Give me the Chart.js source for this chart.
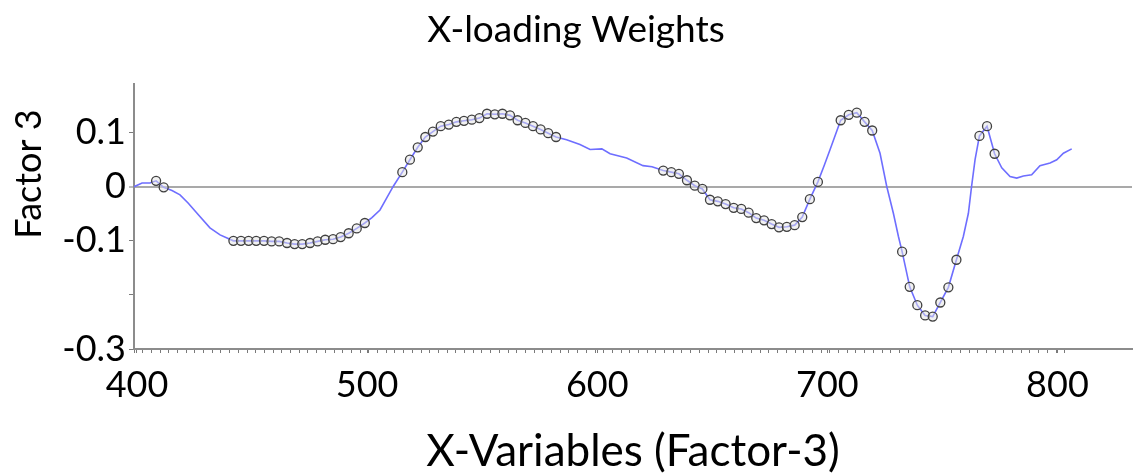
<!DOCTYPE html>
<html>
<head>
<meta charset="utf-8">
<title>X-loading Weights</title>
<script src="https://cdn.jsdelivr.net/npm/chart.js@4"></script>
<style>
    html, body { margin: 0; padding: 0; background: #ffffff; }
    #loadingChart { display: block; }
</style>
</head>
<body>
<canvas id="loadingChart" width="1134" height="475"></canvas>
<script>
// Wavelengths of the plotted variables
const wavelengths = [
    398.7, 402.2, 405.6, 408.3, 411.6, 415.2, 418.7, 422.2, 425.9, 431.7, 436.1,
    441.9, 445.2, 448.5, 451.8, 455.2, 458.5, 461.8, 465.2, 468.5, 471.8, 475.2, 478.5, 481.8, 485.2, 488.5, 492.0, 495.5, 499.0,
    502.1, 505.6, 508.6, 511.4,
    515.3, 518.6, 522.0, 525.3, 528.6, 532.0, 535.5, 538.8, 542.1, 545.5, 548.8, 552.1, 555.5, 558.8, 562.1, 565.4, 568.8, 572.1, 575.4, 578.7, 582.1,
    586.7, 592.5, 596.9, 602.0, 605.6, 612.8, 619.9, 623.8,
    628.7, 632.2, 635.5, 639.0, 642.4, 645.7, 649.0, 652.4, 655.8, 659.3, 662.6, 665.8, 669.1, 672.5, 675.8, 679.0, 682.4, 685.8, 689.1, 692.4, 695.9,
    698.6, 701.2,
    705.8, 709.3, 712.8, 716.2, 719.5,
    722.9, 725.8, 728.7, 730.9,
    732.5, 735.8, 739.1, 742.5, 745.8, 749.1, 752.6, 756.1,
    759.1, 761.3, 762.7, 764.2,
    766.1, 769.4, 772.7,
    775.8, 779.4, 782.3, 785.2, 788.8, 792.4, 796.8, 799.7, 802.6, 806.2
];

// Factor 3 loading weights
const loadings = [
    0, 0.007, 0.007, 0.011, -0.001, -0.007, -0.015, -0.030, -0.048, -0.076, -0.089,
    -0.100, -0.100, -0.100, -0.100, -0.100, -0.101, -0.101, -0.104, -0.106, -0.106, -0.104, -0.101, -0.098, -0.097, -0.093, -0.086, -0.077, -0.067,
    -0.057, -0.043, -0.020, 0.001,
    0.027, 0.050, 0.073, 0.092, 0.102, 0.112, 0.115, 0.120, 0.122, 0.124, 0.127, 0.135, 0.134, 0.135, 0.132, 0.123, 0.118, 0.112, 0.106, 0.099, 0.092,
    0.087, 0.078, 0.069, 0.070, 0.061, 0.053, 0.039, 0.037,
    0.030, 0.027, 0.024, 0.012, 0.002, -0.004, -0.024, -0.027, -0.032, -0.039, -0.041, -0.048, -0.058, -0.062, -0.069, -0.075, -0.074, -0.071, -0.056, -0.023, 0.009,
    0.039, 0.069,
    0.123, 0.133, 0.137, 0.120, 0.104,
    0.062, 0.001, -0.049, -0.092,
    -0.120, -0.185, -0.219, -0.238, -0.240, -0.214, -0.186, -0.135,
    -0.092, -0.049, 0.001, 0.050,
    0.094, 0.112, 0.061,
    0.035, 0.019, 0.016, 0.020, 0.022, 0.039, 0.044, 0.050, 0.062, 0.070
];

// 1 = variable marked with a circle (significant)
const marked = [
    0, 0, 0, 1, 1, 0, 0, 0, 0, 0, 0,
    1, 1, 1, 1, 1, 1, 1, 1, 1, 1, 1, 1, 1, 1, 1, 1, 1, 1,
    0, 0, 0, 0,
    1, 1, 1, 1, 1, 1, 1, 1, 1, 1, 1, 1, 1, 1, 1, 1, 1, 1, 1, 1, 1,
    0, 0, 0, 0, 0, 0, 0, 0,
    1, 1, 1, 1, 1, 1, 1, 1, 1, 1, 1, 1, 1, 1, 1, 1, 1, 1, 1, 1, 1,
    0, 0,
    1, 1, 1, 1, 1,
    0, 0, 0, 0,
    1, 1, 1, 1, 1, 1, 1, 1,
    0, 0, 0, 0,
    1, 1, 1,
    0, 0, 0, 0, 0, 0, 0, 0, 0, 0
];

// Axis ticks
const xTickLabels = [400, 500, 600, 700, 800];
const yTickValues = [-0.3, -0.25, -0.2, -0.15, -0.1, -0.05, 0, 0.05, 0.1, 0.15];
const yTickLabels = [0.1, 0, -0.1, -0.3];

const X_MIN = 398.7;
const X_MAX = 832.4;

document.addEventListener('DOMContentLoaded', function() {
    const ctx = document.getElementById('loadingChart').getContext('2d');

    // Small tick marks along the x axis, one per variable step
    const xMinorTicks = [];
    for (let v = X_MIN; v <= 806.5; v += 3.78) {
        xMinorTicks.push(v);
    }
    const xTicks = xMinorTicks.concat(xTickLabels).sort((a, b) => a - b);

    // Y axis title drawn by hand (it sits above the middle of the axis)
    const yTitlePlugin = {
        id: 'yTitle',
        afterDraw(chart) {
            const c = chart.ctx;
            c.save();
            c.translate(29, 174);
            c.rotate(-Math.PI / 2);
            c.font = '36px Lato';
            c.fillStyle = '#000000';
            c.textAlign = 'center';
            c.textBaseline = 'middle';
            c.fillText('Factor 3', 0, 0);
            c.restore();
        }
    };

    const loadingChart = new Chart(ctx, {
        type: 'line',
        data: {
            datasets: [{
                label: 'Factor 3',
                data: wavelengths.map((x, i) => ({ x: x, y: loadings[i] })),
                borderColor: '#6e6eff',
                borderWidth: 1.6,
                tension: 0,
                pointRadius: marked.map(m => m ? 4.5 : 0),
                pointHoverRadius: marked.map(m => m ? 4.5 : 0),
                pointBackgroundColor: 'rgba(228, 228, 228, 0.5)',
                pointBorderColor: '#404040',
                pointBorderWidth: 1.3
            }]
        },
        options: {
            responsive: false,
            animation: false,
            layout: {
                padding: { left: 20, right: 2, top: 0, bottom: 0 }
            },
            plugins: {
                legend: { display: false },
                tooltip: { enabled: false },
                title: {
                    display: true,
                    text: 'X-loading Weights',
                    color: '#000000',
                    font: { family: 'Lato', size: 37, weight: 'normal', lineHeight: 1.2 },
                    padding: { top: 8, bottom: 31.6 }
                }
            },
            scales: {
                x: {
                    type: 'linear',
                    min: X_MIN,
                    max: X_MAX,
                    afterBuildTicks: function(scale) {
                        scale.ticks = xTicks.map(v => ({ value: v }));
                    },
                    afterFit: function(scale) {
                        scale.height = 126;
                    },
                    ticks: {
                        autoSkip: false,
                        maxRotation: 0,
                        minRotation: 0,
                        padding: 11,
                        color: '#000000',
                        font: { family: 'Lato', size: 36 },
                        callback: function(value) {
                            return xTickLabels.includes(value) ? String(value) : '';
                        }
                    },
                    grid: {
                        drawOnChartArea: false,
                        tickLength: 4,
                        tickColor: '#7a7a7a',
                        tickWidth: 1
                    },
                    border: { display: true, color: '#8c8c8c', width: 2 },
                    title: {
                        display: true,
                        text: 'X-Variables (Factor-3)',
                        color: '#000000',
                        font: { family: 'Lato', size: 44, lineHeight: 1.0 },
                        padding: { top: 0, bottom: 1 }
                    }
                },
                y: {
                    min: -0.3,
                    max: 0.19,
                    afterBuildTicks: function(scale) {
                        scale.ticks = yTickValues.map(v => ({ value: v }));
                    },
                    afterFit: function(scale) {
                        scale.width = 114;
                    },
                    ticks: {
                        padding: 3,
                        color: '#000000',
                        font: { family: 'Lato', size: 36 },
                        callback: function(value) {
                            return yTickLabels.includes(value) ? String(value) : '';
                        }
                    },
                    grid: {
                        drawOnChartArea: true,
                        color: c => (c.tick && c.tick.value === 0) ? '#a9a9a9' : 'rgba(0,0,0,0)',
                        lineWidth: c => (c.tick && c.tick.value === 0) ? 2 : 1,
                        tickLength: 5,
                        tickColor: '#7a7a7a',
                        tickWidth: 1
                    },
                    border: { display: true, color: '#8c8c8c', width: 2 }
                }
            }
        },
        plugins: [yTitlePlugin]
    });
});
</script>
</body>
</html>
